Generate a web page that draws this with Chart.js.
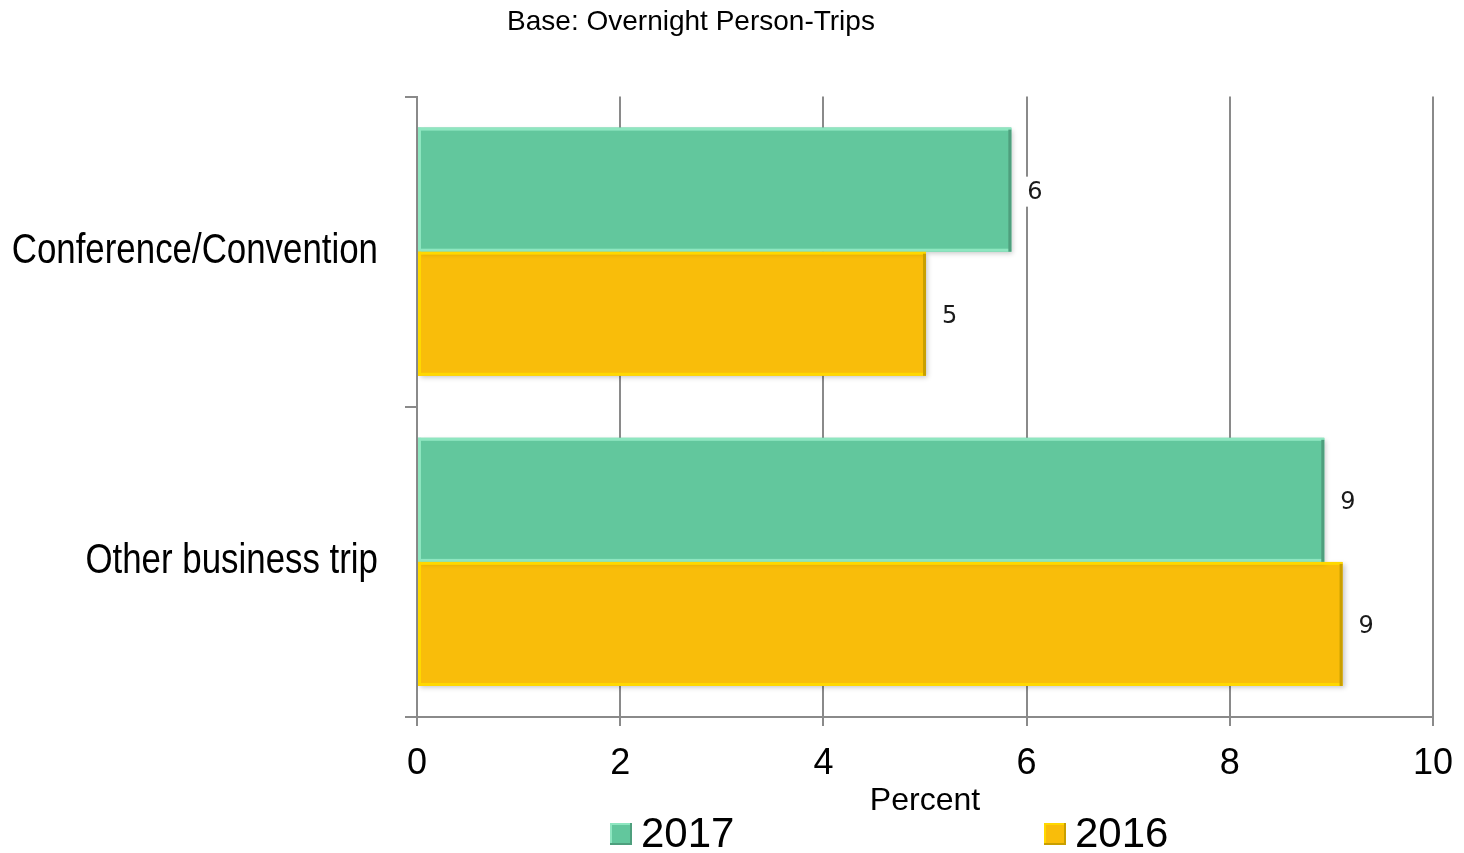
<!DOCTYPE html>
<html>
<head>
<meta charset="utf-8">
<script src="https://cdn.jsdelivr.net/npm/chart.js@4.4.1/dist/chart.umd.min.js"></script>
<style>
  html, body { margin: 0; padding: 0; background: #ffffff; }
  #wrap { width: 1464px; height: 853px; position: relative; }
</style>
</head>
<body>
<div id="wrap"><canvas id="chart" width="1464" height="853"></canvas></div>
<script>
// Share of overnight business person-trips by purpose
const categories = ['Conference/Convention', 'Other business trip'];
const seriesNames = ['2017', '2016'];
const values2017 = [5.85, 8.93];
const values2016 = [5.01, 9.11];
const xTickValues = [0, 2, 4, 6, 8, 10];

const chartTitle = 'Base: Overnight Person-Trips';
const xAxisTitle = 'Percent';

const palette = {
  '2017': { fill: '#62c79d', light: '#8ee6c0', dark: '#4e9f7d' },
  '2016': { fill: '#f9bd0a', light: '#ffd800', dark: '#c99f00' }
};
const gridGray = '#8a8a8a';
const SANS = "'Liberation Sans', Arial, sans-serif";

// Soft drop shadow under the bars, then bevelled edges on top
const barBevel = {
  id: 'barBevel',
  beforeDatasetsDraw(chart) {
    const ctx = chart.ctx;
    ctx.save();
    ctx.shadowColor = 'rgba(0,0,0,0.22)';
    ctx.shadowBlur = 5;
    ctx.shadowOffsetX = 2;
    ctx.shadowOffsetY = 2;
  },
  afterDatasetsDraw(chart) {
    const ctx = chart.ctx;
    ctx.restore();
    ctx.save();
    chart.data.datasets.forEach((ds, di) => {
      const col = palette[ds.label];
      chart.getDatasetMeta(di).data.forEach(bar => {
        const left = Math.min(bar.base, bar.x);
        const right = Math.max(bar.base, bar.x);
        const top = bar.y - bar.height / 2;
        const bottom = bar.y + bar.height / 2;
        ctx.fillStyle = col.light;
        ctx.fillRect(left, top, right - left, 3);
        ctx.fillRect(left, bottom - 3, right - left, 3);
        ctx.fillRect(left, top, 3, bottom - top);
        ctx.fillStyle = col.dark;
        ctx.fillRect(right - 3, top + 2, 3, bottom - top - 2);
      });
    });
    ctx.restore();
  }
};

// Value labels beside each bar, on a white patch over the grid
const valueLabels = {
  id: 'valueLabels',
  afterDatasetsDraw(chart) {
    const ctx = chart.ctx;
    ctx.save();
    ctx.font = "24px 'DejaVu Sans', Verdana, sans-serif";
    ctx.textBaseline = 'middle';
    ctx.textAlign = 'left';
    chart.data.datasets.forEach((ds, di) => {
      chart.getDatasetMeta(di).data.forEach((bar, i) => {
        const txt = String(Math.round(ds.data[i]));
        const w = ctx.measureText(txt).width;
        const x = bar.x + 16;
        ctx.fillStyle = '#ffffff';
        ctx.fillRect(x - 6, bar.y - 13, w + 12, 30);
        ctx.fillStyle = '#1a1a1a';
        ctx.fillText(txt, x, bar.y + 3);
      });
    });
    ctx.restore();
  }
};

// Category names in a condensed face, right-aligned to the y axis
const categoryLabels = {
  id: 'categoryLabels',
  afterDraw(chart) {
    const ctx = chart.ctx;
    const yScale = chart.scales.y;
    const rightX = chart.chartArea.left - 39;
    ctx.save();
    ctx.font = '42px ' + SANS;
    ctx.fillStyle = '#000000';
    ctx.textAlign = 'right';
    ctx.textBaseline = 'middle';
    chart.data.labels.forEach((label, i) => {
      const y = yScale.getPixelForTick(i);
      ctx.save();
      ctx.translate(rightX, y);
      ctx.scale(0.83, 1);
      ctx.fillText(label, 0, 0);
      ctx.restore();
    });
    ctx.restore();
  }
};

// Legend row under the axis title
const bottomLegend = {
  id: 'bottomLegend',
  afterDraw(chart) {
    const ctx = chart.ctx;
    const area = chart.chartArea;
    const itemX = [area.left + 193, area.left + 627];
    const cy = 834;
    ctx.save();
    ctx.font = '42px ' + SANS;
    ctx.textBaseline = 'middle';
    ctx.textAlign = 'left';
    chart.data.datasets.forEach((ds, di) => {
      const col = palette[ds.label];
      const x = itemX[di];
      ctx.fillStyle = col.fill;
      ctx.fillRect(x, cy - 11, 22, 22);
      ctx.fillStyle = col.light;
      ctx.fillRect(x, cy - 11, 22, 2);
      ctx.fillRect(x, cy - 11, 2, 22);
      ctx.fillStyle = col.dark;
      ctx.fillRect(x + 20, cy - 11, 2, 22);
      ctx.fillRect(x, cy + 9, 22, 2);
      ctx.fillStyle = '#000000';
      ctx.fillText(ds.label, x + 31, cy + 1);
    });
    ctx.restore();
  }
};

// Title is centred a little left of the canvas middle
const titleShift = {
  id: 'titleShift',
  afterLayout(chart) {
    const t = chart.titleBlock;
    if (t) {
      const d = 691 - (t.left + t.right) / 2;
      t.left += d;
      t.right += d;
    }
  }
};

new Chart(document.getElementById('chart'), {
  type: 'bar',
  data: {
    labels: categories,
    datasets: [
      { label: seriesNames[0], data: values2017, backgroundColor: palette['2017'].fill, borderWidth: 0 },
      { label: seriesNames[1], data: values2016, backgroundColor: palette['2016'].fill, borderWidth: 0 }
    ]
  },
  options: {
    indexAxis: 'y',
    responsive: false,
    animation: false,
    devicePixelRatio: 1,
    datasets: { bar: { barPercentage: 1.0, categoryPercentage: 0.8 } },
    layout: { padding: { left: 405, right: 31, top: 0, bottom: 36 } },
    plugins: {
      legend: { display: false },
      tooltip: { enabled: false },
      title: {
        display: true,
        text: chartTitle,
        color: '#000000',
        font: { family: SANS, size: 28, weight: 'normal', lineHeight: 1.2 },
        padding: { top: 5, bottom: 58 }
      }
    },
    scales: {
      x: {
        type: 'linear',
        min: 0,
        max: 10,
        afterBuildTicks(axis) { axis.ticks = xTickValues.map(v => ({ value: v })); },
        afterFit(axis) { axis.paddingRight = 0; axis.paddingLeft = 0; },
        ticks: {
          color: '#000000',
          font: { family: SANS, size: 36, lineHeight: 1 },
          padding: 20,
          maxRotation: 0
        },
        grid: { color: gridGray, lineWidth: 2, tickLength: 9, drawTicks: true },
        border: { color: gridGray, width: 2 },
        title: {
          display: true,
          text: xAxisTitle,
          color: '#000000',
          font: { family: SANS, size: 32, lineHeight: 1 },
          padding: { top: -17, bottom: 0 }
        }
      },
      y: {
        type: 'category',
        ticks: { display: false },
        grid: { drawOnChartArea: false, color: gridGray, lineWidth: 2, tickLength: 12, offset: true },
        border: { color: gridGray, width: 2 }
      }
    }
  },
  plugins: [barBevel, valueLabels, categoryLabels, bottomLegend, titleShift]
});
</script>
</body>
</html>
